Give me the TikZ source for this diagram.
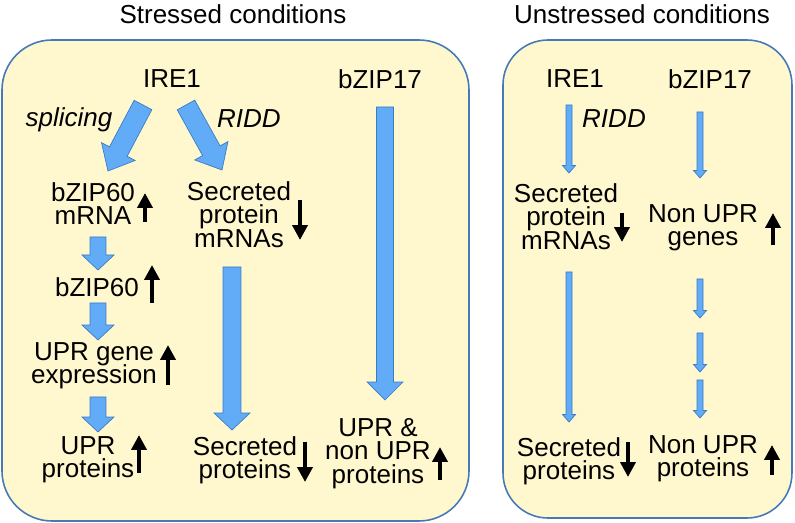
\documentclass[tikz,border=0pt]{standalone}
\usepackage{fontspec}
\setmainfont{Liberation Sans}
\usetikzlibrary{calc, arrows.meta, positioning}

\definecolor{boxfill}{HTML}{FFF7CE}
\definecolor{boxline}{HTML}{4579B8}
\definecolor{arrowfill}{HTML}{62ACF7}
\definecolor{arrowline}{HTML}{3A7BC8}

\newcommand{\labelfont}{\fontsize{14.8}{13.4}\selectfont\lineskiplimit=-20pt\relax}

% block arrow: from, to, half shaft width, half head width, head length
\newcommand{\fatarrow}[5]{%
  \coordinate (fab) at ($(#2)!#5!(#1)$);
  \filldraw[fat] ($(#1)!#3!90:(#2)$) -- ($(fab)!#3!-90:(#1)$) -- ($(fab)!#4!-90:(#1)$) -- (#2)
    -- ($(fab)!#4!90:(#1)$) -- ($(fab)!#3!90:(#1)$) -- ($(#1)!#3!-90:(#2)$) -- cycle;}

\begin{document}
\begin{tikzpicture}[x=0.02cm, y=-0.02cm]
				\tikzstyle{panel} = [draw=boxline, fill=boxfill, line width=0.9pt]
				\tikzstyle{txt} = [inner sep=0pt, anchor=north, align=center, font=\labelfont]
				\tikzstyle{lab} = [txt, font=\labelfont\itshape]
				\tikzstyle{fat} = [fill=arrowfill, draw=arrowline, line width=0.4pt, line join=miter]
				\tikzstyle{level} = [line width=2.6pt, -{Triangle[length=8.5pt, width=8.5pt]}]
				
				\useasboundingbox (0,0) rectangle (795,523);
				\draw[panel, rounded corners=1cm] (2,40) rectangle (469,521);
				\draw[panel, rounded corners=0.9cm] (503,40) rectangle (792,518);
				
				% stressed
				\node[txt] 	at (233, 4) 	(ttlS) 	{Stressed conditions};
				\node[txt] 	at (172, 69) 	(ireS) 	{IRE1};
				\node[txt] 	at (380, 69) 	(zipS) 	{bZIP17};
				\node[lab] 	at (69, 107) 	(splice) 	{splicing};
				\node[lab] 	at (249, 109) 	(riddS) 	{RIDD};
				\node[txt] 	at (93, 182) 	(zipmrna) 	{bZIP60\\mRNA};
				\node[txt] 	at (239, 181) 	(secmS) 	{Secreted\\protein\\mRNAs};
				\node[txt] 	at (97, 277) 	(zipsix) 	{bZIP60};
				\node[txt] 	at (94, 342) 	(uprexp) 	{UPR gene\\expression};
				\node[txt] 	at (88, 436) 	(uprprot) 	{UPR\\proteins};
				\node[txt] 	at (245, 436) 	(secpS) 	{Secreted\\proteins};
				\node[txt] 	at (378, 418) 	(allprot) 	{UPR \&\\non UPR\\proteins};
				
				% unstressed
				\node[txt] 	at (642, 4) 	(ttlU) 	{Unstressed conditions};
				\node[txt] 	at (575, 69) 	(ireU) 	{IRE1};
				\node[txt] 	at (710, 69) 	(zipU) 	{bZIP17};
				\node[lab] 	at (614, 109) 	(riddU) 	{RIDD};
				\node[txt] 	at (566, 183) 	(secmU) 	{Secreted\\protein\\mRNAs};
				\node[txt] 	at (703, 204) 	(nongen) 	{Non UPR\\genes};
				\node[txt] 	at (569, 437) 	(secpU) 	{Secreted\\proteins};
				\node[txt] 	at (703, 435) 	(nonprot) 	{Non UPR\\proteins};
				
				% arrow ends
				\coordinate (s1) at (143, 105);	\coordinate (e1) at (108, 171);
				\coordinate (s2) at (186, 105);	\coordinate (e2) at (222, 170);
				\coordinate (s3) at (98, 237);	\coordinate (e3) at (98, 270);
				\coordinate (s4) at (98, 303);	\coordinate (e4) at (98, 340);
				\coordinate (s5) at (98, 397);	\coordinate (e5) at (98, 432);
				\coordinate (s6) at (232, 267);	\coordinate (e6) at (232, 430);
				\coordinate (s7) at (385, 107);	\coordinate (e7) at (385, 400);
				\coordinate (t1) at (569, 105);	\coordinate (u1) at (569, 173);
				\coordinate (t2) at (700, 112);	\coordinate (u2) at (700, 178);
				\coordinate (t3) at (569, 272);	\coordinate (u3) at (569, 422);
				\coordinate (t4) at (700, 279);	\coordinate (u4) at (700, 318);
				\coordinate (t5) at (700, 333);	\coordinate (u5) at (700, 372);
				\coordinate (t6) at (700, 380);	\coordinate (u6) at (700, 418);
				
				\fatarrow{s1}{e1}{0.2cm}{0.38cm}{0.44cm}
				\fatarrow{s2}{e2}{0.2cm}{0.38cm}{0.44cm}
				\foreach \i in {3,4,5}
					{\fatarrow{s\i}{e\i}{0.16cm}{0.32cm}{0.3cm}}
				\fatarrow{s6}{e6}{0.18cm}{0.36cm}{0.34cm}
				\fatarrow{s7}{e7}{0.17cm}{0.36cm}{0.36cm}
				\foreach \i in {1,...,6}
					{\fatarrow{t\i}{u\i}{0.06cm}{0.13cm}{0.15cm}}
				
				% up and down markers
				\foreach \x/\a/\b in {145/222/193, 152/303/265, 168/385/345, 139/473/435, 440/480/447,
					773/245/213, 772/475/445, 300/200/240, 305/442/482, 622/213/242, 628/442/477}
					\draw[level] (\x, \a) -- (\x, \b);
				\end{tikzpicture}
\end{document}
